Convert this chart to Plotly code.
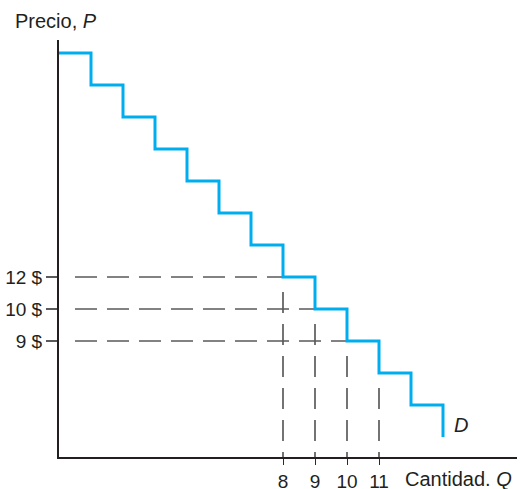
import plotly.graph_objects as go

# demand steps: quantity breakpoints and price level (step index, top = 12)
quantity = [1, 2, 3, 4, 5, 6, 7, 8, 9, 10, 11, 12, 13]
price_level = [12, 11, 10, 9, 8, 7, 6, 5, 4, 3, 2, 1, 0]

# price labels on the vertical axis (placed on step levels)
price_tick_levels = [5, 4, 3]
price_tick_text = ["12 $", "10 $", "9 $"]

# quantity labels on the horizontal axis
qty_ticks = [8, 9, 10, 11]

# corners that get dashed guides: (quantity, level)
guide_q = [8, 9, 10, 11]
guide_level = [5, 4, 3, 2]
guide_horizontal = [True, True, True, False]

FONT = "Liberation Sans, Arial, sans-serif"
BLUE = "#00aeef"
INK = "#231f20"

X0, X1 = 1, 15.3125
Y0, Y1 = -0.625, 12.40625

fig = go.Figure()

# dashed guides
for q, lv, horiz in zip(guide_q, guide_level, guide_horizontal):
    if horiz:
        fig.add_trace(go.Scatter(x=[1.5, q], y=[lv, lv], mode="lines",
                                 line=dict(color="#5a5a5a", width=1.5, dash="22px,10px"),
                                 hoverinfo="skip", showlegend=False))
    fig.add_trace(go.Scatter(x=[q, q], y=[lv - 0.46875, Y0], mode="lines",
                             line=dict(color="#2a2a2a", width=1.3, dash="21px,11px"),
                             hoverinfo="skip", showlegend=False))

# demand step curve
fig.add_trace(go.Scatter(x=quantity, y=price_level, mode="lines",
                         line=dict(color=BLUE, width=3, shape="hv"),
                         name="D", showlegend=False))

fig.add_annotation(x=13.56, y=0.375, text="<i>D</i>", showarrow=False,
                   font=dict(family=FONT, size=20, color=INK))
fig.add_annotation(xref="paper", yref="paper", x=-0.1004, y=1.0444,
                   xanchor="left", yanchor="middle", text="Precio, <i>P</i>",
                   showarrow=False, font=dict(family=FONT, size=20, color=INK))
fig.add_annotation(xref="paper", yref="paper", x=(403 - 59) / 458, y=-0.0528,
                   xanchor="left", yanchor="middle", text="Cantidad. <i>Q</i>",
                   showarrow=False, font=dict(family=FONT, size=20, color=INK))

fig.update_xaxes(range=[X0, X1], showgrid=False, zeroline=False, automargin=False,
                 showline=True, linecolor=INK, linewidth=2,
                 tickvals=qty_ticks, ticktext=[str(q) for q in qty_ticks],
                 ticks="outside", ticklen=6, tickwidth=1.3, tickcolor="#2a2a2a",
                 ticklabelstandoff=0,
                 tickfont=dict(family=FONT, size=19, color=INK))
fig.update_yaxes(range=[Y0, Y1], showgrid=False, zeroline=False, automargin=False,
                 showline=True, linecolor=INK, linewidth=2,
                 tickvals=price_tick_levels, ticktext=price_tick_text,
                 ticks="outside", ticklen=11, tickwidth=1.5, tickcolor="#5a5a5a",
                 tickfont=dict(family=FONT, size=19, color=INK))

fig.update_layout(width=520, height=489,
                  margin=dict(l=59, r=3, t=40, b=32),
                  plot_bgcolor="white", paper_bgcolor="white",
                  showlegend=False)

# drop the browser's default body margin so the figure sits at the page corner
fig.write_html("out.html", config={"displayModeBar": False},
               post_script="document.body.style.margin='0';")
